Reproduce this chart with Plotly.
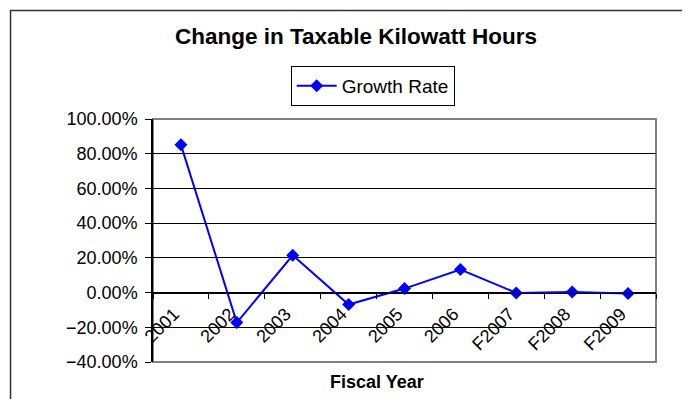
import plotly.graph_objects as go

# Fiscal years on the category axis
years = ["2001", "2002", "2003", "2004", "2005", "2006", "F2007", "F2008", "F2009"]
# Growth rate of taxable kWh, in percent
growth = [85.1, -17.3, 21.5, -6.9, 2.3, 13.3, -0.2, 0.3, -0.5]

# the page puts the figure 8px in from the top left corner,
# so everything is laid out 8px up/left of where it should end up
OFF = 8
W, H = 690 - OFF, 399 - OFF
left, right, top, bottom = 153.3 - OFF, 655.7 - OFF, 119.3 - OFF, 361.7 - OFF
pw, ph = right - left, bottom - top

def px_x(x):
    return (x - OFF - left) / pw

def px_y(y):
    return (bottom - (y - OFF)) / ph

font = "Liberation Sans, Arial, sans-serif"
blue = "#0000FF"

fig = go.Figure()
fig.add_trace(go.Scatter(
    x=years, y=growth, name="Growth Rate",
    mode="lines+markers",
    line=dict(color=blue, width=2),
    marker=dict(symbol="diamond", size=10, color=blue),
))

fig.update_layout(
    width=W, height=H,
    margin=dict(l=left, r=W - right, t=top, b=H - bottom, pad=0, autoexpand=False),
    paper_bgcolor="white",
    plot_bgcolor="white",
    font=dict(family=font, size=18, color="black"),
    title=dict(
        text="<b>Change in Taxable Kilowatt Hours</b>",
        font=dict(size=22.5, family=font, color="black"),
        xref="container", yref="container",
        x=348 / W, xanchor="center",
        y=1 - 28 / H, yanchor="middle",
    ),
    showlegend=True,
    legend=dict(
        xref="container", yref="container",
        x=282.7 / W, xanchor="left",
        y=1 - 58 / H, yanchor="top",
        bordercolor="black", borderwidth=1,
        bgcolor="white",
        itemwidth=40,
        font=dict(size=19, family=font),
    ),
    xaxis=dict(
        type="category",
        range=[-0.5, 8.5],
        anchor="free",
        position=40 / 140,
        automargin=False,
        showline=True, linecolor="black", linewidth=1,
        ticks="outside", ticklen=5, tickcolor="black",
        tickson="boundaries",
        tickangle=-45,
        ticklabelshift=-7,
        ticklabelstandoff=3,
        showgrid=False,
        tickfont=dict(size=18),
    ),
    yaxis=dict(
        range=[-40, 100],
        dtick=20,
        tickformat=".2f",
        ticksuffix="%",
        automargin=False,
        showline=True, linecolor="black", linewidth=1.5,
        ticks="outside", ticklen=6, tickcolor="black",
        ticklabelstandoff=4,
        showgrid=True, gridcolor="black", gridwidth=1,
        zeroline=False,
        tickfont=dict(size=18),
    ),
    shapes=[
        # grey plot-area frame
        dict(type="rect", xref="paper", yref="paper",
             x0=0, x1=1, y0=0, y1=1,
             line=dict(color="#808080", width=2), layer="below"),
        # outer chart border (cropped by the image)
        dict(type="rect", xref="paper", yref="paper",
             x0=px_x(11), x1=px_x(720), y0=px_y(430), y1=px_y(11),
             line=dict(color="#333333", width=1.5)),
    ],
    annotations=[
        dict(text="<b>Fiscal Year</b>", xref="paper", yref="paper",
             x=px_x(377.5), y=px_y(382), xanchor="center", yanchor="middle",
             showarrow=False, font=dict(size=18, family=font)),
    ],
)

fig.write_html("out.html")
